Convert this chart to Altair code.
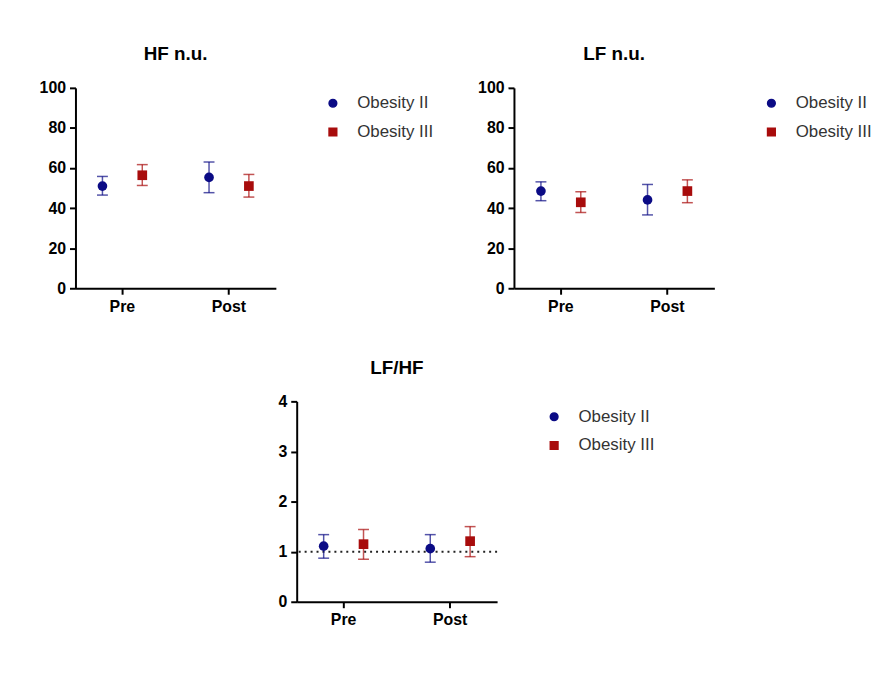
import altair as alt
import pandas as pd

periods = ["Pre", "Pre", "Post", "Post"]
groups = ["Obesity II", "Obesity III", "Obesity II", "Obesity III"]
period_order = ["Pre", "Post"]
group_order = ["Obesity II", "Obesity III"]

hf_mean = [51.0, 56.4, 55.3, 51.0]
hf_low = [46.5, 51.3, 47.7, 45.5]
hf_high = [55.8, 61.7, 63.0, 56.8]

lf_mean = [48.5, 42.9, 44.1, 48.5]
lf_low = [43.7, 37.8, 36.6, 42.7]
lf_high = [53.1, 48.2, 51.8, 54.1]

ratio_mean = [1.11, 1.15, 1.06, 1.21]
ratio_low = [0.87, 0.85, 0.79, 0.90]
ratio_high = [1.34, 1.44, 1.34, 1.50]

ref_line = [1]

NAVY = "#0b0b85"
RED = "#a80c0c"
FONT = "Liberation Sans"


def panel(title, mean, low, high, ymax, ystep, ref=None):
    df = pd.DataFrame({"period": periods, "group": groups,
                       "mean": mean, "low": low, "high": high})
    yscale = alt.Scale(domain=[0, ymax], nice=False, zero=True)
    yaxis = alt.Axis(title=None, values=list(range(0, ymax + 1, ystep)),
                     grid=False, domainColor="black", domainWidth=2,
                     tickColor="black", tickWidth=2, tickSize=6,
                     labelFont=FONT, labelFontSize=16, labelFontWeight="bold",
                     labelColor="black", labelPadding=4)
    xaxis = alt.Axis(title=None, labelAngle=0, grid=False, domainColor="black",
                     domainWidth=2, tickColor="black", tickWidth=2, tickSize=6,
                     labelFont=FONT, labelFontSize=16, labelFontWeight="bold",
                     labelColor="black", labelPadding=4)
    base = alt.Chart(df).encode(
        x=alt.X("period:N", sort=period_order,
                scale=alt.Scale(paddingInner=0.2, paddingOuter=0.04),
                axis=xaxis),
        xOffset=alt.XOffset("group:N", sort=group_order,
                            scale=alt.Scale(paddingInner=0, paddingOuter=0.07)),
        color=alt.Color("group:N", scale=alt.Scale(domain=group_order, range=[NAVY, RED]),
                        legend=alt.Legend(title=None)),
    )
    rules = base.mark_rule(strokeWidth=1.5, opacity=0.7).encode(
        y=alt.Y("low:Q", scale=yscale, axis=yaxis), y2="high:Q")
    cap_lo = base.mark_tick(size=11, thickness=1.5, opacity=0.7).encode(
        y=alt.Y("low:Q", scale=yscale, axis=yaxis))
    cap_hi = base.mark_tick(size=11, thickness=1.5, opacity=0.7).encode(
        y=alt.Y("high:Q", scale=yscale, axis=yaxis))
    pts = base.mark_point(filled=True, size=95, opacity=1).encode(
        y=alt.Y("mean:Q", scale=yscale, axis=yaxis),
        shape=alt.Shape("group:N", scale=alt.Scale(domain=group_order, range=["circle", "square"]),
                        legend=alt.Legend(title=None)))
    layers = [rules, cap_lo, cap_hi, pts]
    if ref is not None:
        rdf = pd.DataFrame({"ref": ref})
        line = alt.Chart(rdf).mark_rule(color="#222", strokeWidth=2, strokeDash=[2, 4]).encode(
            y=alt.Y("ref:Q", scale=yscale, axis=yaxis))
        layers = [line] + layers
    return alt.layer(*layers).properties(
        width=202, height=202,
        title=alt.TitleParams(title, font=FONT, fontSize=19, fontWeight="bold",
                              color="black", offset=16, anchor="middle"))


p1 = panel("HF n.u.", hf_mean, hf_low, hf_high, 100, 20)
p2 = panel("LF n.u.", lf_mean, lf_low, lf_high, 100, 20)
p3 = panel("LF/HF", ratio_mean, ratio_low, ratio_high, 4, 1, ref=ref_line)

spacer = alt.Chart(pd.DataFrame({"a": [0]})).mark_point(opacity=0).encode(
    x=alt.X("a:Q", axis=None), y=alt.Y("a:Q", axis=None)).properties(width=184, height=10)

row1 = alt.hconcat(p1, p2, spacing=37).resolve_legend(color="independent", shape="independent")
row2 = alt.hconcat(spacer, p3, spacing=20).resolve_legend(color="independent", shape="independent")

chart = alt.vconcat(row1, row2, spacing=45).resolve_legend(
    color="independent", shape="independent"
).properties(
    padding={"left": 31, "top": 35, "right": 5, "bottom": 5},
    background="white",
).configure_view(stroke=None).configure_legend(
    orient="right", offset=42, labelFont=FONT, labelFontSize=17, labelColor="#333",
    symbolSize=60, rowPadding=11, padding=7, symbolOpacity=1, labelOffset=16,
)

chart.save("out.html", embed_options={"renderer": "svg", "actions": False})
